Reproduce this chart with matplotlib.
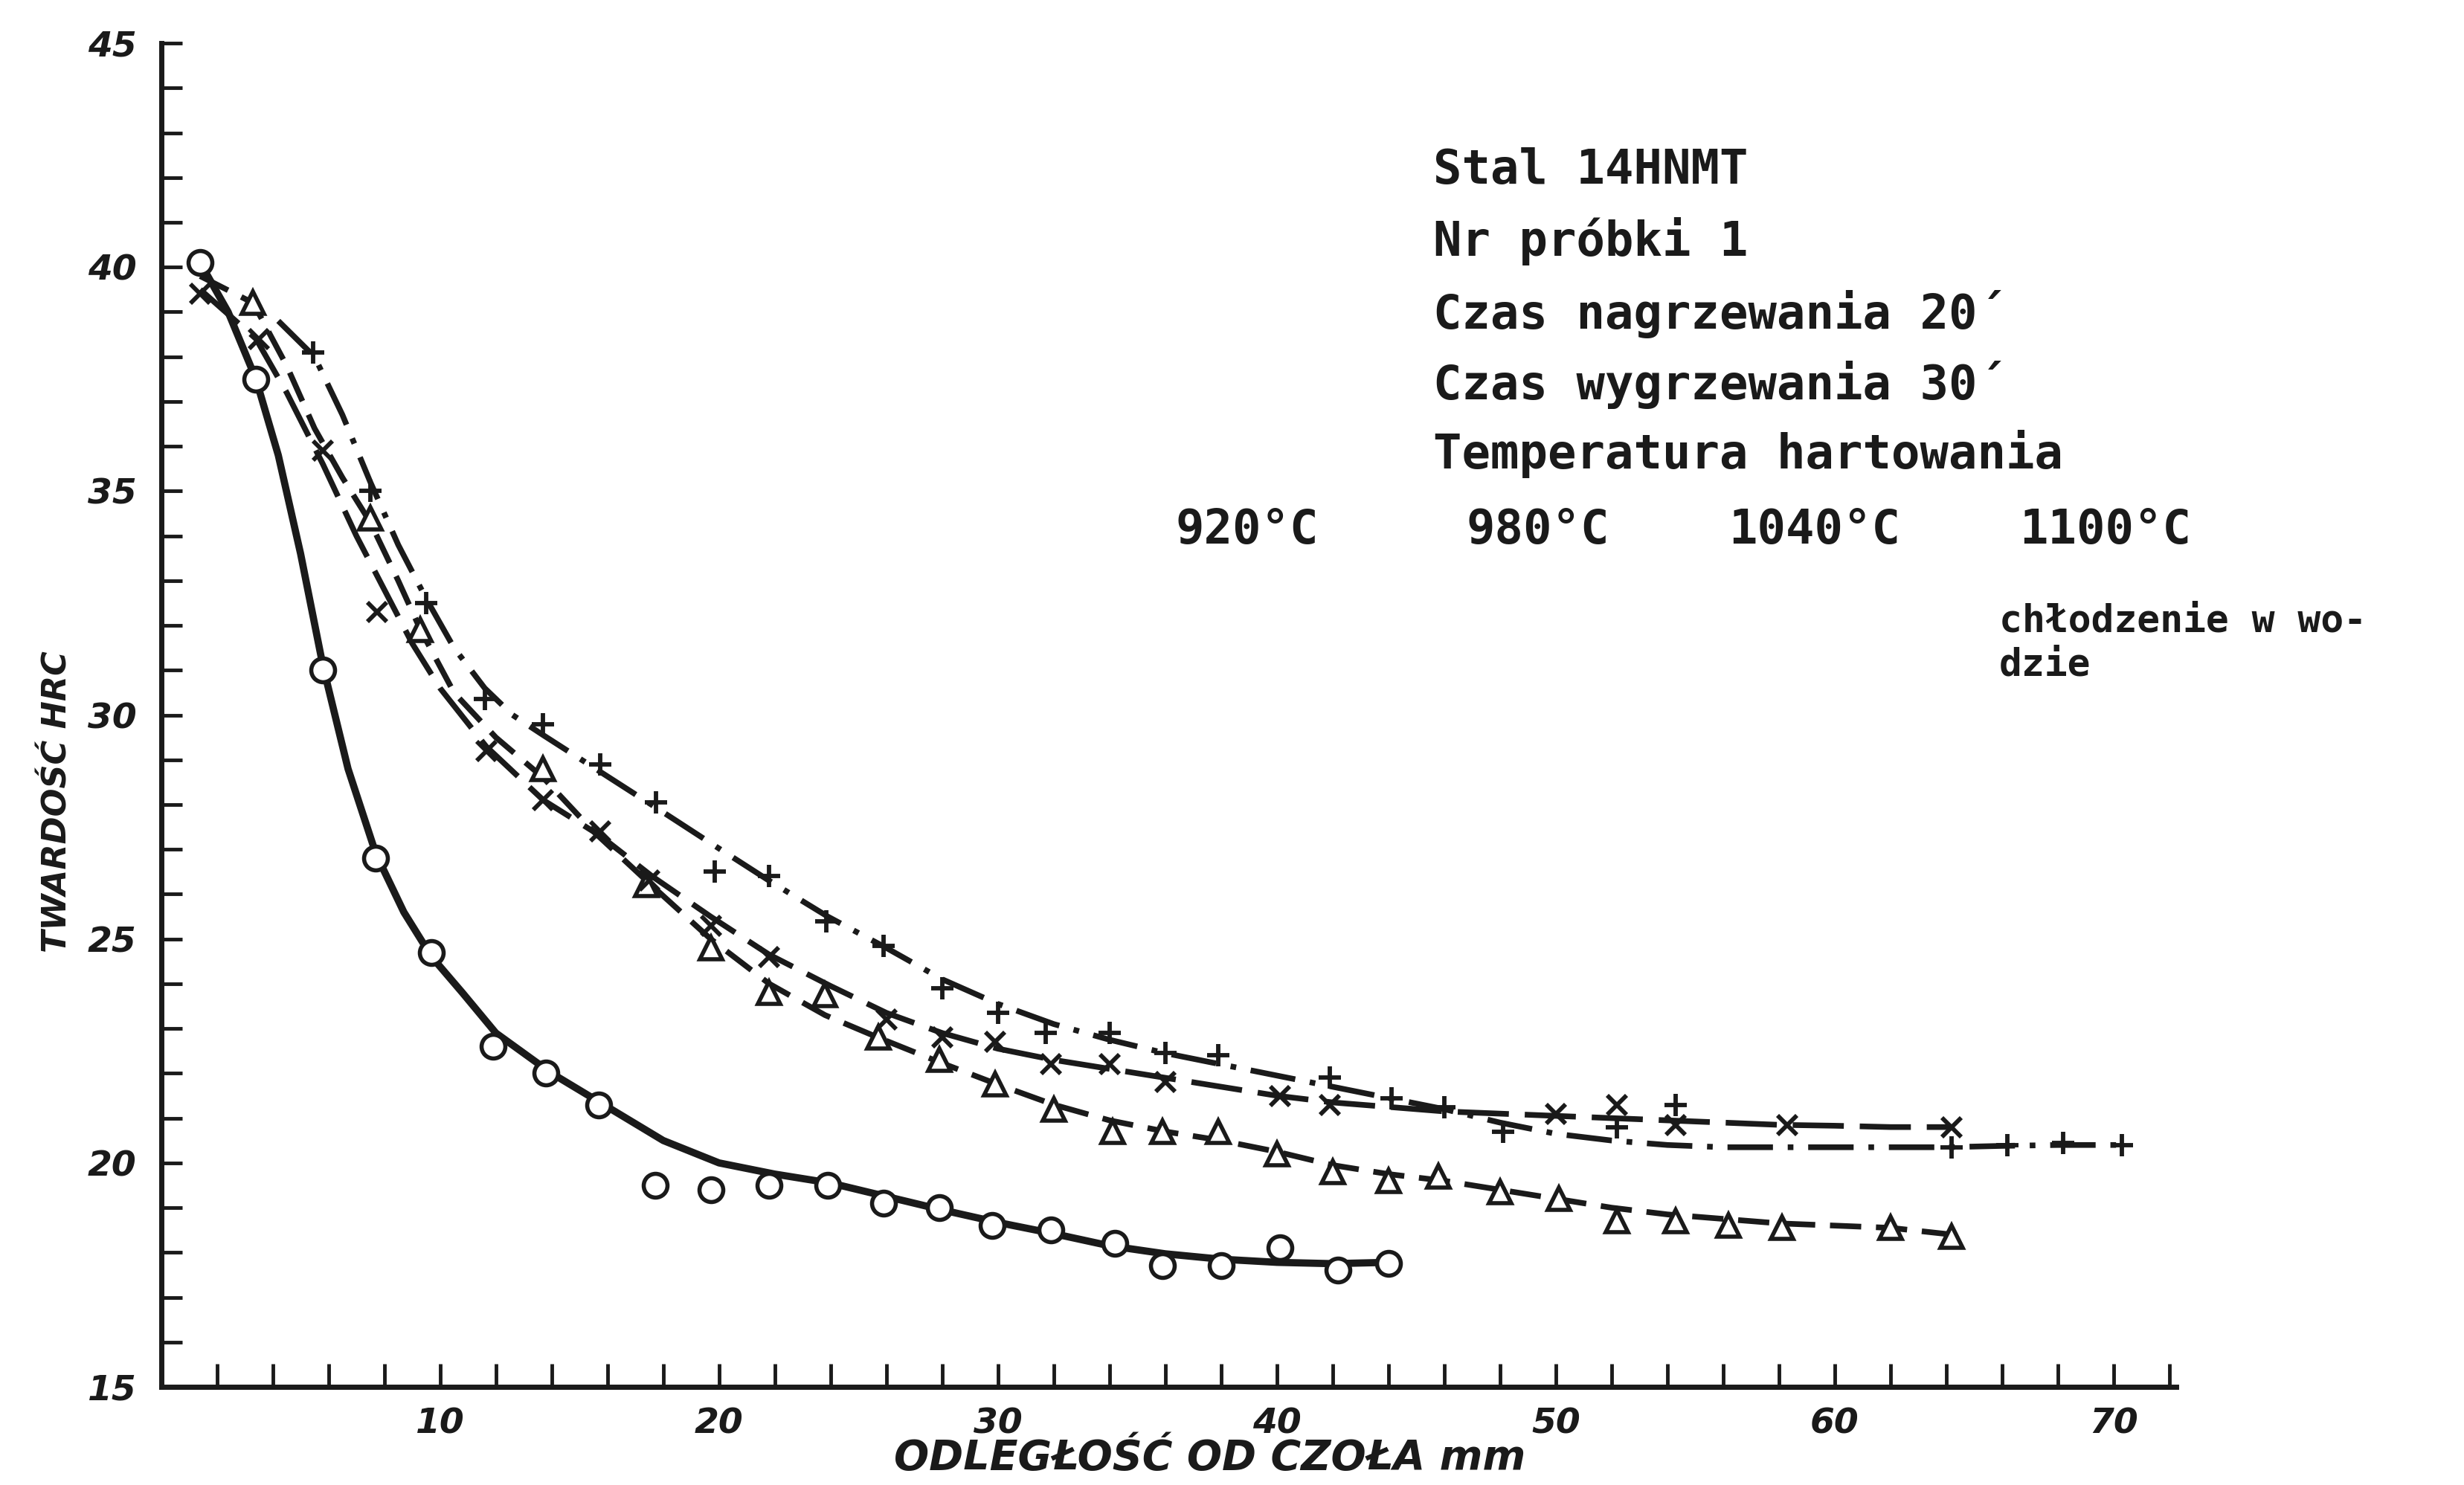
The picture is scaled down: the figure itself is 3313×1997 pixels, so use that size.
import matplotlib
matplotlib.use("Agg")
import matplotlib.pyplot as plt
from matplotlib.ticker import MultipleLocator, FixedLocator

# ---------------- data ----------------
# 920 C  (circles, solid line)
x920 = [1.4, 3.4, 5.8, 7.7, 9.7, 11.9, 13.8, 15.7, 17.7, 19.7, 21.8, 23.9, 25.9, 27.9,
        29.8, 31.9, 34.2, 35.9, 38.0, 40.1, 42.2, 44.0]
y920 = [40.1, 37.5, 31.0, 26.8, 24.7, 22.6, 22.0, 21.3, 19.5, 19.4, 19.5, 19.5, 19.1, 19.0,
        18.6, 18.5, 18.2, 17.7, 17.7, 18.1, 17.6, 17.75]
c920x = [1.4, 2.4, 3.4, 4.2, 5.0, 5.8, 6.7, 7.7, 8.7, 9.7, 10.8, 12, 14, 16, 18, 20, 22, 24,
         26, 28, 30, 32, 34, 36, 38, 40, 42, 44]
c920y = [40.1, 39.0, 37.5, 35.8, 33.6, 31.1, 28.8, 26.9, 25.6, 24.6, 23.8, 22.9, 22.0, 21.25,
         20.5, 20.0, 19.75, 19.55, 19.25, 18.95, 18.67, 18.42, 18.15, 17.97, 17.85, 17.78,
         17.75, 17.78]

# 980 C  (triangles, dashed line)
x980 = [3.3, 7.5, 9.3, 13.7, 17.4, 19.7, 21.8, 23.8, 25.7, 27.9, 29.9, 32.0, 34.1, 35.9,
        37.9, 40.0, 42.0, 44.0, 45.8, 48.0, 50.1, 52.2, 54.3, 56.2, 58.1, 62.0, 64.2]
y980 = [39.2, 34.4, 31.9, 28.8, 26.2, 24.8, 23.8, 23.75, 22.8, 22.3, 21.75, 21.2, 20.7, 20.7,
        20.7, 20.2, 19.8, 19.6, 19.7, 19.35, 19.2, 18.7, 18.7, 18.6, 18.55, 18.55, 18.35]
c980x = [1.4, 3.3, 4.5, 5.5, 6.5, 7.5, 8.5, 9.3, 10.5, 12, 13.7, 15.5, 17.4, 19.7, 21.8, 23.8,
         25.7, 27.9, 30, 32, 34, 36, 38, 40, 42, 44, 46, 48, 50, 52, 54, 56, 58, 60, 62, 64.2]
c980y = [39.8, 39.2, 37.8, 36.4, 35.3, 34.3, 33.0, 31.9, 30.5, 29.5, 28.6, 27.4, 26.3, 25.0,
         24.0, 23.3, 22.8, 22.25, 21.75, 21.3, 20.95, 20.7, 20.5, 20.25, 19.95, 19.75, 19.6,
         19.4, 19.2, 19.0, 18.85, 18.75, 18.65, 18.6, 18.55, 18.4]

# 1040 C  (crosses x, long dashes)
x1040 = [1.4, 3.5, 5.8, 7.75, 11.65, 13.7, 15.75, 17.5, 19.7, 21.8, 26.0, 28.0, 29.9, 31.9,
         34.0, 36.0, 40.1, 41.9, 50.0, 52.2, 54.3, 58.3, 64.2]
y1040 = [39.4, 38.4, 35.9, 32.3, 29.2, 28.1, 27.4, 26.3, 25.3, 24.6, 23.2, 22.8, 22.7, 22.2,
         22.2, 21.8, 21.5, 21.3, 21.1, 21.3, 20.85, 20.85, 20.8]
c1040x = [1.4, 3.4, 4.5, 5.8, 7.0, 8.0, 9.0, 10.0, 11.65, 13.7, 15.75, 17.6, 19.7, 21.8, 24,
          26, 28, 30, 32, 34, 36, 38, 40, 42, 44, 46, 48, 50, 52, 54, 56, 58, 60, 62, 64.2]
c1040y = [39.5, 38.4, 37.2, 35.6, 34.0, 32.8, 31.6, 30.6, 29.3, 28.1, 27.3, 26.4, 25.5, 24.65,
          23.95, 23.35, 22.9, 22.55, 22.3, 22.1, 21.9, 21.7, 21.5, 21.35, 21.25, 21.15, 21.1,
          21.05, 21.0, 20.95, 20.9, 20.85, 20.83, 20.8, 20.8]

# 1100 C  (plus, dash-dot line)
x1100 = [5.45, 7.5, 9.5, 11.6, 13.7, 15.75, 17.75, 19.85, 21.8, 23.85, 25.9, 28.0, 30.0, 31.7,
         34.0, 36.0, 37.9, 41.9, 44.1, 46.0, 48.1, 52.2, 54.3, 64.2, 66.2, 68.2, 70.3]
y1100 = [38.1, 35.0, 32.5, 30.35, 29.8, 28.9, 28.05, 26.5, 26.4, 25.4, 24.85, 23.9, 23.35,
         22.9, 22.9, 22.45, 22.4, 21.9, 21.45, 21.25, 20.7, 20.8, 21.3, 20.35, 20.4, 20.45, 20.4]
c1100x = [4.2, 5.5, 6.5, 7.5, 8.5, 9.5, 10.5, 11.6, 12.6, 13.7, 15.7, 17.7, 19.8, 21.8, 23.9,
          26, 28, 30, 32, 34, 36, 38, 40, 42, 44, 46, 48, 50, 52, 54, 56, 58, 60, 62, 64, 66,
          68, 70.3]
c1100y = [38.8, 38.0, 36.7, 35.2, 33.8, 32.6, 31.5, 30.6, 30.0, 29.55, 28.75, 27.95, 27.1,
          26.3, 25.5, 24.8, 24.1, 23.55, 23.1, 22.75, 22.45, 22.2, 21.95, 21.7, 21.45, 21.2,
          20.9, 20.65, 20.5, 20.4, 20.35, 20.35, 20.35, 20.35, 20.35, 20.38, 20.4, 20.4]

x_ticklabels = ["10", "20", "30", "40", "50", "60", "70"]
y_ticklabels = ["15", "20", "25", "30", "35", "40", "45"]

info_lines = ["Stal 14HNMT", "Nr próbki 1", "Czas nagrzewania 20´",
              "Czas wygrzewania 30´", "Temperatura hartowania"]
temps = ["920°C", "980°C", "1040°C", "1100°C"]
cooling = ["chłodzenie w wo-", "dzie"]
xlabel = "ODLEGŁOŚĆ OD CZOŁA mm"
ylabel = "TWARDOŚĆ HRC"

# ---------------- figure ----------------
INK = "#1a1a1a"
fig = plt.figure(figsize=(33.13, 19.97), dpi=100)
fig.patch.set_facecolor("white")
ax = fig.add_axes([0.0654, 0.0661, 0.8179, 0.9048])
ax.set_facecolor("white")

# lines
ax.plot(c920x, c920y, color=INK, lw=7, solid_capstyle="round", zorder=3)
ax.plot(c980x, c980y, color=INK, lw=5.5, dashes=(5.5, 2.6), zorder=3)
ax.plot(c1040x, c1040y, color=INK, lw=5.5, dashes=(9, 2.8), zorder=3)
ax.plot(c1100x, c1100y, color=INK, lw=5.5, dashes=(8, 2.6, 1.0, 2.6), zorder=3)

# markers
ax.plot(x920, y920, ls="none", marker="o", ms=23, mfc="white", mec=INK, mew=4, zorder=4)
ax.plot(x980, y980, ls="none", marker="^", ms=21, mfc="white", mec=INK, mew=4, zorder=4)
ax.plot(x1040, y1040, ls="none", marker="x", ms=19, mec=INK, mew=4.2, zorder=4)
ax.plot(x1100, y1100, ls="none", marker="+", ms=21, mec=INK, mew=4.2, zorder=4)

# axes
ax.set_xlim(0, 72.25)
ax.set_ylim(15, 45)
for s in ("top", "right"):
    ax.spines[s].set_visible(False)
for s in ("left", "bottom"):
    ax.spines[s].set_linewidth(5)
    ax.spines[s].set_color(INK)

ax.xaxis.set_major_locator(FixedLocator([10, 20, 30, 40, 50, 60, 70]))
ax.xaxis.set_minor_locator(MultipleLocator(2))
ax.yaxis.set_major_locator(FixedLocator([15, 20, 25, 30, 35, 40, 45]))
ax.yaxis.set_minor_locator(MultipleLocator(1))
ax.set_xticklabels(x_ticklabels)
ax.set_yticklabels(y_ticklabels)

ax.tick_params(axis="x", which="both", direction="in", length=22, width=3.5, color=INK, pad=20)
ax.tick_params(axis="y", which="both", direction="in", length=20, width=3.5, color=INK, pad=24)
for lab in ax.get_xticklabels() + ax.get_yticklabels():
    lab.set_fontfamily("DejaVu Sans")
    lab.set_fontweight("bold")
    lab.set_fontstyle("oblique")
    lab.set_fontsize(34)
    lab.set_color(INK)

# axis titles
fig.text(0.0232, 0.4603, ylabel, rotation=90, ha="center", va="center",
         fontsize=32, fontweight="bold", fontstyle="oblique", family="DejaVu Sans", color=INK)
fig.text(0.491, 0.018, xlabel, ha="center", va="center",
         fontsize=40, fontweight="bold", fontstyle="oblique", family="DejaVu Sans", color=INK)

# annotation block
mono = dict(family=["DejaVu Sans Mono"], fontweight="bold", fontsize=46, color=INK, va="baseline")
baselines = [117, 163, 209, 254, 298]
for t, b in zip(info_lines, baselines):
    fig.text(912 / 1568, 1 - b / 945, t, ha="left", **mono)
for t, xp in zip(temps, [748, 933, 1100, 1285]):
    fig.text(xp / 1568, 1 - 346 / 945, t, ha="left", **mono)
mono_small = dict(mono, fontsize=37)
for t, b in zip(cooling, [402, 430]):
    fig.text(1272 / 1568, 1 - b / 945, t, ha="left", **mono_small)

fig.savefig("out.png", dpi=100, facecolor="white")
